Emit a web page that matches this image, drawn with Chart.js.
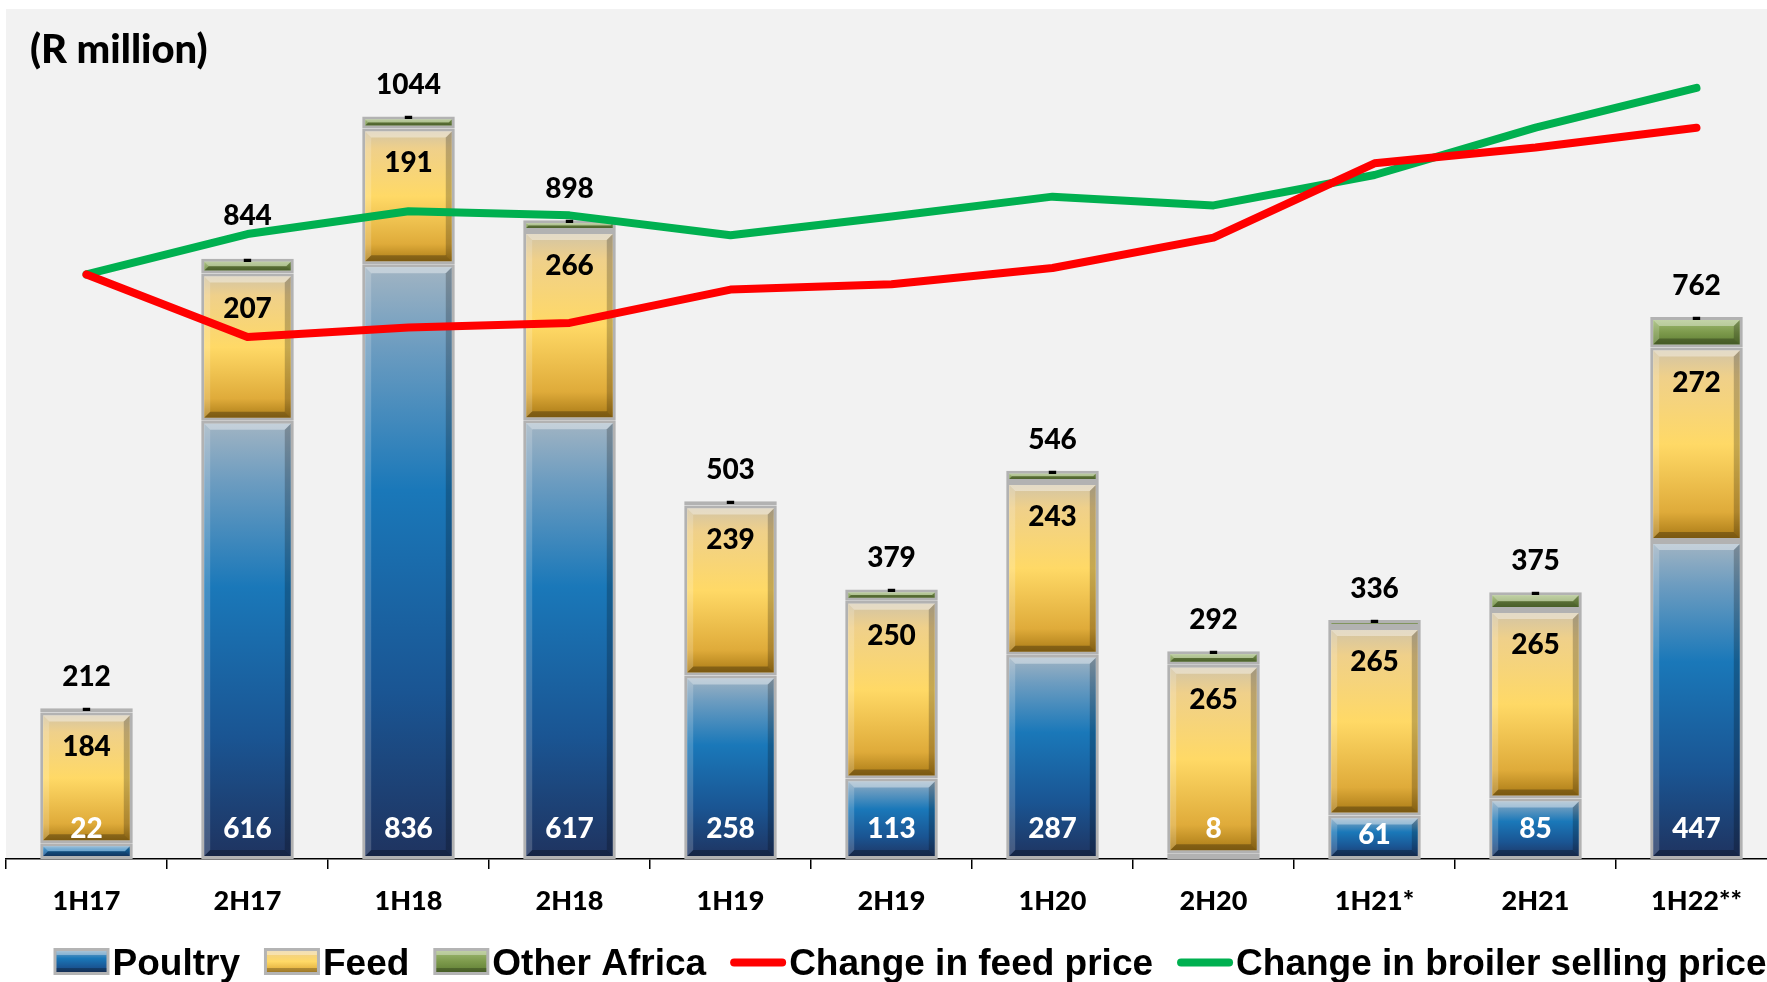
<!DOCTYPE html>
<html>
<head>
<meta charset="utf-8">
<script src="https://cdn.jsdelivr.net/npm/chart.js@4.4.1/dist/chart.umd.min.js"></script>
<style>
  html, body { margin: 0; padding: 0; background: #ffffff; overflow: hidden; }
  #view { position: relative; width: 1767px; height: 982px; overflow: hidden; }
  #wrap { position: absolute; left: 0; top: 0; width: 1777px; height: 982px; }
</style>
</head>
<body>
<div id="view"><div id="wrap"><canvas id="c"></canvas></div></div>
<script>
// ---------- data ----------
const categories = ['1H17', '2H17', '1H18', '2H18', '1H19', '2H19', '1H20', '2H20', '1H21*', '2H21', '1H22**'];
const poultry = [22, 616, 836, 617, 258, 113, 287, 8, 61, 85, 447];
const feed = [184, 207, 191, 266, 239, 250, 243, 265, 265, 265, 272];
const otherAfrica = [6, 21, 17, 15, 6, 16, 16, 19, 10, 25, 43];
const totals = [212, 844, 1044, 898, 503, 379, 546, 292, 336, 375, 762];
const otherAfricaLabels = ['-', '-', '-', '-', '-', '-', '-', '-', '-', '-', '-'];
// price changes, indexed (1H17 = 100)
const feedPriceIndex = [100, 89.3, 90.9, 91.7, 97.4, 98.3, 101.1, 106.3, 119.0, 121.7, 125.1];
const broilerPriceIndex = [100, 106.9, 110.8, 110.1, 106.7, 109.9, 113.3, 111.8, 117.0, 125.1, 131.9];
const titleText = '(R million)';

const NUM_FONT = '900 28px Lato';

const stops = {
  poultry: [[0, '#a3b5c3'], [0.14, '#6c9cc0'], [0.38, '#1a78b9'], [0.72, '#1a5593'], [1, '#1f335f']],
  feed: [[0, '#cfc3a8'], [0.15, '#efd08a'], [0.5, '#ffd966'], [0.85, '#dfab3a'], [1, '#a47512']],
  other: [[0, '#a6c07c'], [0.5, '#7d9a4c'], [1, '#58772e']]
};
const solid = { poultry: '#1f70b0', feed: '#f5c64a', other: '#779447' };

function segGradient(key, series, prevSeries) {
  return function (ctx) {
    if (ctx.type !== 'data') return solid[key];
    const chart = ctx.chart;
    const y = chart.scales.y;
    if (!chart.chartArea || !y) return solid[key];
    let start = 0;
    prevSeries.forEach(s => { start += s[ctx.dataIndex]; });
    const end = start + series[ctx.dataIndex];
    const top = y.getPixelForValue(end), bot = y.getPixelForValue(start);
    if (!isFinite(top) || !isFinite(bot) || Math.abs(bot - top) < 1) return solid[key];
    const g = chart.ctx.createLinearGradient(0, top, 0, bot);
    stops[key].forEach(([o, c]) => g.addColorStop(o, c));
    return g;
  };
}

// ---------- plugins ----------
const bgPlugin = {
  id: 'bg',
  beforeDraw(chart) {
    const { ctx, chartArea: a, width, height } = chart;
    ctx.save();
    ctx.fillStyle = '#ffffff';
    ctx.fillRect(0, 0, width, height);
    ctx.fillStyle = '#f2f2f2';
    ctx.fillRect(a.left, a.top, a.right - a.left, a.bottom - a.top);
    ctx.restore();
  }
};

const bevelPlugin = {
  id: 'bevel',
  afterDatasetDraw(chart, args) {
    const meta = args.meta;
    if (meta.type !== 'bar') return;
    const ctx = chart.ctx;
    ctx.save();
    meta.data.forEach(el => {
      const l = el.x - el.width / 2, r = el.x + el.width / 2;
      const t = Math.min(el.y, el.base), b = Math.max(el.y, el.base);
      const bw = 3;
      const h = b - t - 2 * bw;
      if (h <= 1) return;
      const d = Math.min(6, h / 2);
      const L = l + bw, R = r - bw, T = t + bw, B = b - bw;
      const poly = (pts, col) => {
        ctx.beginPath();
        ctx.moveTo(pts[0][0], pts[0][1]);
        for (let i = 1; i < pts.length; i++) ctx.lineTo(pts[i][0], pts[i][1]);
        ctx.closePath();
        ctx.fillStyle = col;
        ctx.fill();
      };
      poly([[L, T], [R, T], [R - d, T + d], [L + d, T + d]], 'rgba(255,255,255,0.38)');
      poly([[L, B], [R, B], [R - d, B - d], [L + d, B - d]], 'rgba(0,0,0,0.28)');
      poly([[L, T], [L + d, T + d], [L + d, B - d], [L, B]], 'rgba(255,255,255,0.18)');
      poly([[R, T], [R - d, T + d], [R - d, B - d], [R, B]], 'rgba(0,0,0,0.22)');
    });
    ctx.restore();
  }
};

const labelPlugin = {
  id: 'labels',
  afterDatasetsDraw(chart, args, opts) {
    const ctx = chart.ctx;
    const mP = chart.getDatasetMeta(0), mF = chart.getDatasetMeta(1), mO = chart.getDatasetMeta(2);
    const nudgeTotal = opts.nudgeTotal || {}, nudgePoultry = opts.nudgePoultry || {};
    ctx.save();
    ctx.font = NUM_FONT;
    ctx.textAlign = 'center';
    ctx.textBaseline = 'alphabetic';
    categories.forEach((c, j) => {
      const p = mP.data[j], f = mF.data[j], o = mO.data[j];
      ctx.fillStyle = '#ffffff';
      ctx.fillText(String(poultry[j]), p.x, p.base - 21 + (nudgePoultry[j] || 0));
      ctx.fillStyle = '#000000';
      ctx.fillText(String(feed[j]), f.x, f.y + 44);
      ctx.fillText(otherAfricaLabels[j], o.x, o.y + 10);
      ctx.fillText(String(totals[j]), o.x, o.y - 22 + (nudgeTotal[j] || 0));
    });
    ctx.textAlign = 'left';
    ctx.font = '900 40px Lato';
    ctx.fillText(titleText, 30, 63);
    ctx.restore();
  }
};

const legendPlugin = {
  id: 'customLegend',
  afterDraw(chart) {
    const ctx = chart.ctx;
    const items = chart.data.datasets.map(ds => ({ label: ds.label, type: ds.type || 'bar', key: ds.gradKey, color: ds.borderColor }));
    ctx.save();
    ctx.font = 'bold 37px "Liberation Sans"';
    const boxW = 56, boxH = 27, gapText = 3, gapItem = 24;
    const widths = items.map(it => boxW + gapText + ctx.measureText(it.label).width);
    const total = widths.reduce((a, b) => a + b, 0) + gapItem * (items.length - 1);
    let x = 910 - total / 2;
    const cy = 961.5;
    items.forEach((it, i) => {
      if (it.type === 'line') {
        ctx.strokeStyle = it.color;
        ctx.lineWidth = 8;
        ctx.lineCap = 'round';
        ctx.beginPath();
        ctx.moveTo(x + 4, cy + 1);
        ctx.lineTo(x + boxW - 4, cy + 1);
        ctx.stroke();
      } else {
        const g = ctx.createLinearGradient(0, cy - boxH / 2, 0, cy + boxH / 2);
        stops[it.key].forEach(([o, c]) => g.addColorStop(o, c));
        ctx.fillStyle = '#b4b4b4';
        ctx.fillRect(x, cy - boxH / 2, boxW, boxH);
        ctx.fillStyle = g;
        ctx.fillRect(x + 3, cy - boxH / 2 + 3, boxW - 6, boxH - 6);
        ctx.fillStyle = 'rgba(255,255,255,0.35)';
        ctx.fillRect(x + 3, cy - boxH / 2 + 3, boxW - 6, 4);
        ctx.fillStyle = 'rgba(0,0,0,0.25)';
        ctx.fillRect(x + 3, cy + boxH / 2 - 7, boxW - 6, 4);
      }
      ctx.fillStyle = '#000000';
      ctx.textAlign = 'left';
      ctx.textBaseline = 'alphabetic';
      ctx.fillText(it.label, x + boxW + gapText, cy + 13);
      x += widths[i] + gapItem;
    });
    ctx.restore();
  }
};

// ---------- chart ----------
const barCommon = {
  type: 'bar',
  stack: 's',
  yAxisID: 'y',
  order: 1,
  borderColor: '#b2b2b2',
  borderWidth: 3,
  borderSkipped: false,
  barPercentage: 0.575,
  categoryPercentage: 1.0
};

new Chart(document.getElementById('c'), {
  data: {
    labels: categories,
    datasets: [
      Object.assign({}, barCommon, { label: 'Poultry', data: poultry, gradKey: 'poultry', backgroundColor: segGradient('poultry', poultry, []) }),
      Object.assign({}, barCommon, { label: 'Feed', data: feed, gradKey: 'feed', backgroundColor: segGradient('feed', feed, [poultry]) }),
      Object.assign({}, barCommon, { label: 'Other Africa', data: otherAfrica, gradKey: 'other', backgroundColor: segGradient('other', otherAfrica, [poultry, feed]) }),
      { type: 'line', label: 'Change in feed price', data: feedPriceIndex, yAxisID: 'y1', order: 0,
        borderColor: '#ff0000', borderWidth: 8, pointRadius: 0, tension: 0, fill: false, borderCapStyle: 'round', borderJoinStyle: 'round' },
      { type: 'line', label: 'Change in broiler selling price', data: broilerPriceIndex, yAxisID: 'y1', order: 0,
        borderColor: '#00b050', borderWidth: 8, pointRadius: 0, tension: 0, fill: false, borderCapStyle: 'round', borderJoinStyle: 'round' }
    ]
  },
  options: {
    responsive: true,
    maintainAspectRatio: false,
    animation: false,
    layout: { padding: { left: 6, top: 9, right: 0, bottom: 66 } },
    plugins: {
      legend: { display: false }, tooltip: { enabled: false }, title: { display: false },
      labels: { nudgeTotal: { 1: -12 }, nudgePoultry: { 8: 6 } }
    },
    scales: {
      x: {
        stacked: true,
        offset: true,
        grid: { display: true, drawOnChartArea: false, drawTicks: true, tickLength: 10, color: '#000000', offset: true, lineWidth: 1.5 },
        border: { display: true, color: '#000000', width: 1.5 },
        ticks: { color: '#000000', font: { family: 'Lato', size: 27, weight: '900' }, padding: 16, maxRotation: 0, autoSkip: false },
        afterFit(scale) { scale.height = 57; }
      },
      y: { stacked: true, display: false, min: 0, max: 1195 },
      y1: { display: false, min: 0, max: 145.4 }
    }
  },
  plugins: [bgPlugin, bevelPlugin, labelPlugin, legendPlugin]
});
</script>
</body>
</html>
